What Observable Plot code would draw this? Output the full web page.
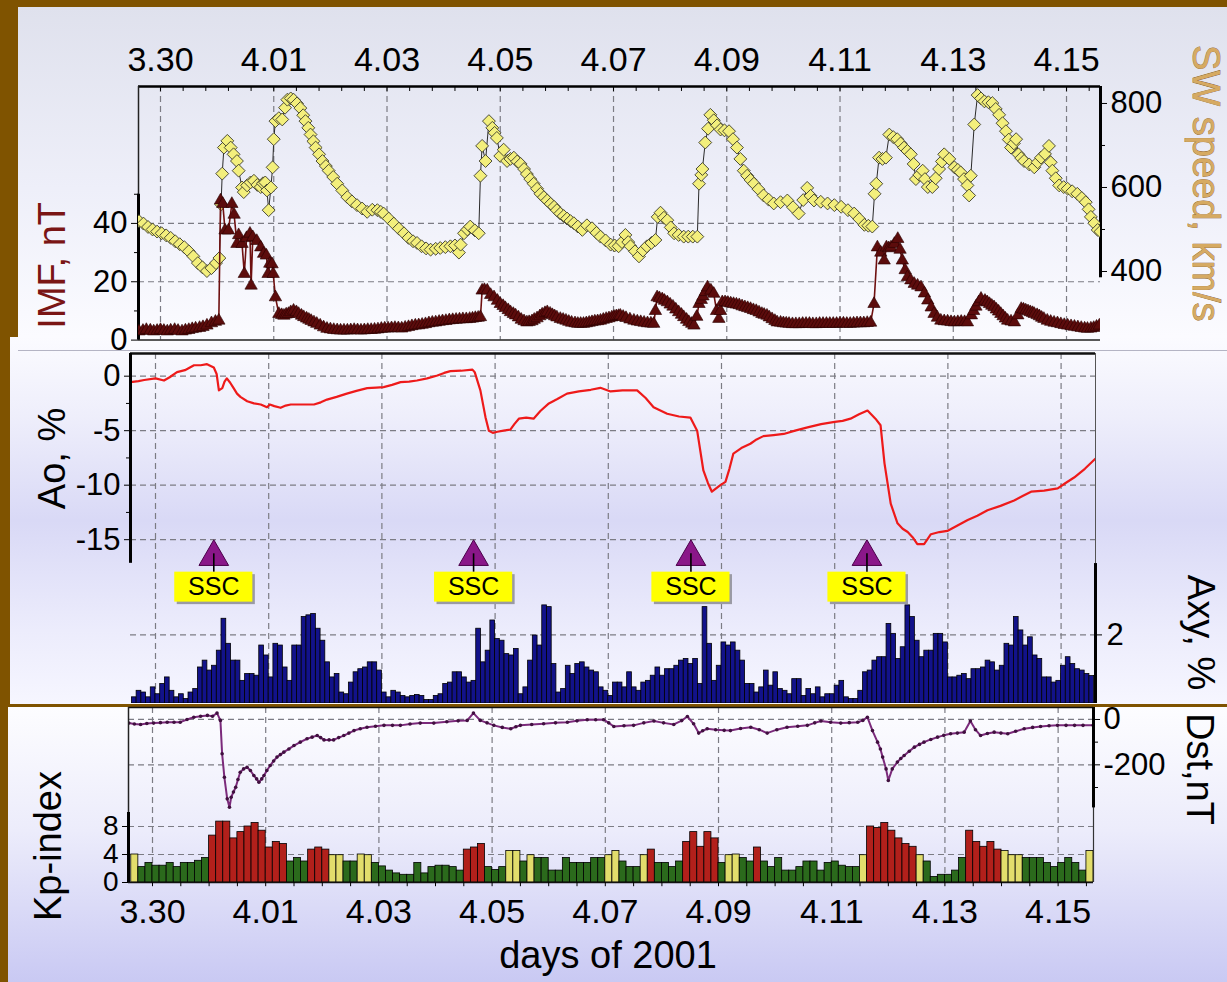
<!DOCTYPE html>
<html><head><meta charset="utf-8">
<script src="https://cdn.jsdelivr.net/npm/d3@7"></script>
<script src="https://cdn.jsdelivr.net/npm/@observablehq/plot@0.6"></script>
<style>
html,body{margin:0;padding:0;background:#7f5300;}
#page{position:relative;width:1227px;height:982px;overflow:hidden;background:#7f5300;}
.bg{position:absolute;}
.layer{position:absolute;left:0;width:1227px;}
.layer svg{overflow:visible;}
</style></head><body>
<div id="page">
 <div class="bg" style="left:18px;top:7px;width:1209px;height:330px;background:linear-gradient(#dfe1ed,#eeeff9 55%,#fbfbff)"></div>
 <div class="bg" style="left:10px;top:337px;width:1217px;height:367px;background:linear-gradient(#fbfbff,#eeeefb 22%,#d9d9f6 50%,#ececfc 80%,#f6f6ff)"></div>
 <div class="bg" style="left:18px;top:350px;width:1209px;height:1px;background:#b4b4c4"></div>
 <div class="bg" style="left:8px;top:707px;width:1219px;height:275px;background:linear-gradient(#fdfdff,#ececfb 45%,#c9c9f3)"></div>
 <div id="p3" class="layer" style="top:700px"></div>
 <div id="p2" class="layer" style="top:330px"></div>
 <div id="p1" class="layer" style="top:0px"></div>
</div>
<script>
// ---------- data (day 0 = 30 March 2001, 00 UT) ----------
const xTickDays = [0, 2, 4, 6, 8, 10, 12, 14, 16];
const xTickLabels = ["3.30", "4.01", "4.03", "4.05", "4.07", "4.09", "4.11", "4.13", "4.15"];

// solar wind speed, km/s  [day, value]
const swSpeed = [[-0.38,520],[-0.30,514],[-0.22,506],[-0.14,500],[-0.06,495],[0.02,491],[0.10,486],[0.18,480],[0.26,472],[0.34,465],[0.42,458],[0.50,448],[0.58,436],[0.66,420],[0.74,410],[0.82,401],[0.90,408],[0.98,420],[1.04,432],[1.07,560],[1.09,633],[1.12,695],[1.18,711],[1.24,695],[1.29,679],[1.35,663],[1.38,640],[1.44,600],[1.47,589],[1.53,605],[1.59,612],[1.65,616],[1.71,606],[1.77,601],[1.81,610],[1.85,612],[1.88,593],[1.91,546],[1.95,600],[1.98,648],[2.00,715],[2.03,758],[2.09,765],[2.15,762],[2.20,790],[2.24,809],[2.30,812],[2.35,809],[2.41,800],[2.47,789],[2.52,772],[2.56,758],[2.61,742],[2.65,726],[2.70,710],[2.74,695],[2.80,679],[2.86,663],[2.92,651],[2.97,640],[3.05,625],[3.12,609],[3.21,593],[3.30,577],[3.38,567],[3.47,558],[3.56,550],[3.65,542],[3.74,547],[3.83,546],[3.89,542],[3.94,538],[4.03,526],[4.12,514],[4.21,502],[4.30,491],[4.38,480],[4.46,472],[4.53,468],[4.61,460],[4.69,455],[4.77,452],[4.86,454],[4.94,456],[5.03,458],[5.12,460],[5.20,462],[5.27,445],[5.30,464],[5.36,491],[5.42,500],[5.47,507],[5.55,498],[5.62,491],[5.65,628],[5.68,699],[5.74,663],[5.80,758],[5.86,742],[5.90,730],[5.94,718],[6.00,675],[6.06,690],[6.12,663],[6.18,668],[6.24,671],[6.30,662],[6.36,656],[6.42,644],[6.47,632],[6.53,620],[6.59,609],[6.65,597],[6.71,585],[6.77,577],[6.83,569],[6.89,561],[6.95,554],[7.00,546],[7.06,538],[7.12,532],[7.18,526],[7.24,520],[7.30,515],[7.37,507],[7.45,499],[7.53,510],[7.62,503],[7.70,492],[7.77,483],[7.86,474],[7.95,464],[8.02,462],[8.09,460],[8.15,470],[8.21,487],[8.26,470],[8.30,460],[8.38,448],[8.45,436],[8.52,450],[8.59,460],[8.67,468],[8.74,475],[8.78,530],[8.83,540],[8.89,528],[8.95,522],[9.01,505],[9.07,491],[9.15,487],[9.24,483],[9.32,483],[9.40,483],[9.48,483],[9.51,609],[9.55,630],[9.57,644],[9.62,707],[9.67,740],[9.71,773],[9.77,760],[9.83,748],[9.89,738],[9.96,736],[10.04,734],[10.11,715],[10.18,695],[10.24,668],[10.30,640],[10.36,628],[10.42,618],[10.48,609],[10.56,596],[10.65,581],[10.74,571],[10.83,562],[10.95,565],[11.07,569],[11.17,553],[11.27,538],[11.35,570],[11.42,599],[11.48,580],[11.54,569],[11.66,566],[11.78,562],[11.90,558],[12.02,554],[12.14,546],[12.25,538],[12.34,525],[12.43,511],[12.50,509],[12.57,507],[12.61,585],[12.64,609],[12.69,671],[12.75,668],[12.81,671],[12.87,726],[12.94,720],[13.01,715],[13.07,705],[13.13,695],[13.19,687],[13.25,679],[13.30,656],[13.34,620],[13.40,630],[13.46,640],[13.50,620],[13.55,601],[13.63,601],[13.69,622],[13.75,644],[13.80,662],[13.84,679],[13.93,668],[14.02,648],[14.08,642],[14.13,636],[14.19,620],[14.25,605],[14.28,581],[14.31,628],[14.37,750],[14.43,820],[14.49,812],[14.55,805],[14.62,803],[14.69,801],[14.75,787],[14.81,773],[14.87,753],[14.93,734],[14.98,714],[15.02,695],[15.07,705],[15.11,715],[15.15,679],[15.20,670],[15.25,663],[15.34,655],[15.43,648],[15.49,660],[15.55,671],[15.62,680],[15.69,699],[15.72,660],[15.75,640],[15.81,622],[15.87,605],[15.95,601],[16.02,597],[16.10,591],[16.19,585],[16.27,575],[16.34,565],[16.39,548],[16.43,530],[16.49,515],[16.55,499],[16.60,495]];

// IMF magnitude, nT  [day, value]
const imf = [[-0.38,3],[-0.31,3.2],[-0.25,3.5],[-0.18,3.3],[-0.12,3],[-0.06,3.2],[0.00,3.5],[0.06,3.2],[0.12,3],[0.18,3.3],[0.25,3.5],[0.31,3.2],[0.38,3],[0.44,3.3],[0.50,3.5],[0.56,3.8],[0.62,4],[0.69,4.2],[0.75,4.5],[0.82,5],[0.90,5.8],[0.97,6.3],[1.03,6.7],[1.06,47.9],[1.10,46.7],[1.14,37.6],[1.20,37.6],[1.26,46.7],[1.30,43],[1.35,33],[1.38,36],[1.44,33],[1.48,22.7],[1.52,35],[1.58,36.5],[1.60,18.7],[1.63,35.3],[1.70,34],[1.77,31.8],[1.82,29.6],[1.87,29],[1.90,22.7],[1.93,26.2],[1.97,26],[1.99,22.7],[2.03,14.7],[2.09,9],[2.14,8.6],[2.18,8.4],[2.22,8.8],[2.26,9],[2.30,9.6],[2.35,10.1],[2.40,9.6],[2.44,9],[2.49,8.4],[2.53,7.9],[2.58,7.4],[2.62,7],[2.66,6.6],[2.71,6.1],[2.76,5.6],[2.82,5],[2.88,4.4],[2.94,3.9],[3.00,3.7],[3.06,3.5],[3.12,3.4],[3.18,3.3],[3.24,3.3],[3.30,3.3],[3.36,3.4],[3.42,3.5],[3.48,3.4],[3.54,3.3],[3.60,3.4],[3.66,3.5],[3.72,3.5],[3.78,3.6],[3.84,3.7],[3.90,3.9],[3.96,4],[4.02,4],[4.08,4.1],[4.14,4.2],[4.20,4.1],[4.26,4],[4.32,4.3],[4.38,4.5],[4.44,4.8],[4.50,5],[4.56,5.1],[4.62,5.3],[4.68,5.5],[4.74,5.8],[4.80,6],[4.86,6.1],[4.92,6.3],[4.98,6.5],[5.04,6.6],[5.10,6.8],[5.16,6.9],[5.22,7],[5.28,7.1],[5.34,7.2],[5.40,7.2],[5.46,7.3],[5.51,7.4],[5.56,7.6],[5.61,7.7],[5.65,7.9],[5.68,17],[5.72,17.2],[5.77,17],[5.83,15.5],[5.89,14.7],[5.95,13.5],[6.00,12.4],[6.05,11.7],[6.09,11],[6.14,10.3],[6.18,9.6],[6.23,9],[6.27,8.5],[6.32,7.8],[6.37,7],[6.42,6.5],[6.47,6.1],[6.51,6.2],[6.56,6.5],[6.60,7],[6.65,7.5],[6.70,8.2],[6.74,8.8],[6.79,9.3],[6.83,9.6],[6.88,9.1],[6.92,8.6],[6.96,8.2],[7.00,7.8],[7.06,7.3],[7.11,7],[7.16,6.7],[7.21,6.3],[7.26,6],[7.32,5.8],[7.37,5.6],[7.42,5.6],[7.47,5.6],[7.52,5.8],[7.57,6],[7.62,6.2],[7.67,6.4],[7.72,6.5],[7.77,6.7],[7.82,7],[7.87,7.3],[7.92,7.5],[7.97,7.8],[8.01,8],[8.05,8.2],[8.09,8.3],[8.12,8.4],[8.17,8],[8.22,7.6],[8.29,7.1],[8.36,6.7],[8.42,6.4],[8.48,6.2],[8.54,6],[8.60,5.8],[8.66,5.7],[8.71,5.6],[8.74,10],[8.77,14.7],[8.81,14.4],[8.86,14],[8.90,13.5],[8.95,13],[9.00,12.2],[9.05,11.5],[9.10,10.5],[9.15,9.6],[9.20,8.7],[9.24,7.9],[9.29,7],[9.33,6.2],[9.38,5.6],[9.42,5],[9.47,8],[9.51,12.4],[9.55,13.8],[9.58,15],[9.62,16.5],[9.66,18.1],[9.72,17],[9.77,15.9],[9.82,10],[9.86,7.3],[9.89,10],[9.92,13],[9.97,13],[10.02,12.8],[10.07,12.6],[10.12,12.4],[10.17,12.2],[10.22,12],[10.27,11.6],[10.32,11.3],[10.37,11],[10.42,10.7],[10.47,10.3],[10.52,10],[10.57,9.5],[10.62,9],[10.66,8.7],[10.71,8.4],[10.75,7.8],[10.80,7.2],[10.85,6.6],[10.89,6.1],[10.95,6],[11.00,5.8],[11.05,5.7],[11.10,5.6],[11.16,5.5],[11.22,5.5],[11.28,5.5],[11.34,5.6],[11.40,5.6],[11.46,5.6],[11.52,5.5],[11.58,5.5],[11.64,5.6],[11.70,5.6],[11.76,5.6],[11.82,5.6],[11.88,5.6],[11.94,5.6],[12.00,5.7],[12.06,5.7],[12.12,5.6],[12.18,5.6],[12.24,5.7],[12.30,5.8],[12.36,5.8],[12.42,5.8],[12.48,5.9],[12.54,6],[12.60,12.4],[12.66,31.8],[12.72,30],[12.78,27.3],[12.82,31.8],[12.86,31.5],[12.90,31.8],[12.96,33],[13.02,34.7],[13.06,31],[13.10,27.3],[13.15,24],[13.19,21.6],[13.25,20.5],[13.31,19.3],[13.37,18.7],[13.43,18.1],[13.49,16],[13.55,13.6],[13.61,11.2],[13.66,9],[13.72,7.7],[13.78,6.7],[13.84,6.5],[13.90,6.4],[13.96,6.2],[14.02,6.1],[14.08,6.2],[14.14,6.3],[14.20,6.2],[14.25,6.1],[14.32,8.5],[14.36,10],[14.40,11.5],[14.45,13],[14.49,14.2],[14.56,13.5],[14.60,13],[14.64,12.4],[14.68,11.8],[14.72,11.3],[14.76,10.5],[14.80,9.8],[14.84,9],[14.88,8.2],[14.92,7.4],[14.96,6.7],[15.02,6.4],[15.08,6.1],[15.14,8.5],[15.20,10.7],[15.24,10.5],[15.28,10.2],[15.32,9.9],[15.36,9.6],[15.40,9.3],[15.43,9],[15.48,8.6],[15.52,8.2],[15.56,7.7],[15.60,7.3],[15.66,6.7],[15.72,6.3],[15.78,6],[15.84,5.8],[15.90,5.5],[15.96,5.2],[16.02,5],[16.08,4.8],[16.14,4.6],[16.20,4.4],[16.26,4.2],[16.32,4],[16.37,3.9],[16.43,4],[16.48,4.2],[16.53,4.6],[16.58,5]];

// cosmic ray density variation Ao, %  [day, value]
const ao = [[-0.44,-0.55],[-0.30,-0.45],[-0.20,-0.35],[0.00,-0.2],[0.15,-0.4],[0.25,-0.1],[0.38,0.37],[0.52,0.55],[0.68,1.0],[0.80,1.0],[0.91,1.1],[1.03,0.8],[1.08,0.2],[1.12,-1.3],[1.18,-1.1],[1.22,-0.5],[1.26,-0.2],[1.32,-0.6],[1.38,-1.1],[1.44,-1.6],[1.50,-1.9],[1.62,-2.3],[1.74,-2.5],[1.86,-2.6],[1.97,-2.85],[2.02,-2.6],[2.10,-2.75],[2.21,-2.9],[2.30,-2.7],[2.39,-2.6],[2.60,-2.6],[2.80,-2.6],[2.92,-2.4],[3.03,-2.15],[3.20,-1.9],[3.38,-1.6],[3.55,-1.35],[3.74,-1.1],[3.90,-1.05],[4.03,-1.0],[4.18,-0.8],[4.33,-0.55],[4.48,-0.5],[4.62,-0.4],[4.80,-0.2],[4.98,0.06],[5.10,0.3],[5.21,0.46],[5.40,0.5],[5.60,0.6],[5.64,0.37],[5.74,-1.3],[5.83,-3.76],[5.89,-5.0],[5.96,-5.2],[6.04,-5.1],[6.15,-5.0],[6.27,-4.9],[6.34,-4.4],[6.42,-3.9],[6.55,-3.8],[6.68,-3.9],[6.80,-3.2],[6.95,-2.5],[7.10,-2.1],[7.27,-1.6],[7.48,-1.4],[7.69,-1.25],[7.86,-1.07],[8.04,-1.4],[8.25,-1.3],[8.51,-1.3],[8.66,-2.0],[8.80,-2.85],[9.04,-3.45],[9.25,-3.7],[9.45,-3.8],[9.57,-5.0],[9.68,-8.65],[9.76,-9.8],[9.83,-10.6],[9.98,-10.0],[10.07,-9.7],[10.14,-8.5],[10.21,-7.1],[10.35,-6.6],[10.51,-6.2],[10.62,-5.8],[10.74,-5.5],[10.92,-5.4],[11.10,-5.3],[11.30,-5.0],[11.52,-4.7],[11.76,-4.4],[12.00,-4.2],[12.14,-4.1],[12.28,-3.9],[12.43,-3.5],[12.58,-3.15],[12.72,-3.9],[12.81,-4.5],[12.88,-8.0],[12.99,-11.7],[13.11,-13.5],[13.20,-14.0],[13.29,-14.3],[13.38,-14.8],[13.46,-15.4],[13.58,-15.4],[13.70,-14.5],[13.85,-14.3],[13.99,-14.2],[14.17,-13.7],[14.35,-13.2],[14.52,-12.8],[14.70,-12.3],[14.93,-11.9],[15.17,-11.4],[15.32,-11.0],[15.47,-10.6],[15.70,-10.5],[15.94,-10.3],[16.08,-9.8],[16.23,-9.3],[16.42,-8.5],[16.60,-7.6]];

// CR anisotropy Axy, %, 2-hour values starting at day axyStart
const axyStart = -10 / 24;
const axy = [0.18,0.37,0.32,0.18,0.47,0.27,0.57,0.76,0.37,0.18,0.27,0.13,0.32,0.42,1.05,1.25,0.96,1.1,1.54,2.47,1.74,1.25,1.25,0.66,0.86,0.86,0.81,1.69,1.4,0.76,1.74,1.69,1.05,0.66,1.69,1.69,2.52,2.57,2.61,2.18,1.83,1.2,0.76,0.86,0.32,0.27,0.61,0.91,1.0,1.05,1.2,1.2,0.96,0.32,0.18,0.37,0.32,0.22,0.18,0.22,0.25,
 0.22,0.1,0.1,0.22,0.27,0.57,0.61,0.91,0.91,0.76,0.61,0.66,2.18,1.2,1.54,2.42,1.88,1.83,1.44,1.4,1.59,0.27,0.47,1.25,1.98,1.69,2.86,2.81,1.15,0.32,0.42,1.1,0.86,1.15,1.2,1.05,0.96,0.91,0.47,0.37,0.22,0.61,0.61,0.47,0.91,0.47,0.37,0.61,0.66,0.81,1.05,0.81,1.0,1.0,1.1,1.25,1.3,1.15,1.3,0.57,2.81,1.74,0.66,1.1,1.78,1.69,1.78,1.54,1.25,0.57,0.57,0.32,0.47,0.96,0.52,0.91,0.42,0.37,0.27,0.71,0.71,0.22,0.42,0.27,0.47,
 0.18,0.27,0.27,0.52,0.66,0.18,0.13,0.13,0.37,0.91,0.96,1.25,1.35,1.35,2.32,2.03,1.3,1.64,2.86,2.52,1.83,1.35,1.54,1.54,2.03,2.03,1.78,0.76,0.76,0.81,0.86,0.71,1.0,1.0,1.05,1.25,1.2,0.96,1.1,1.74,1.69,2.52,2.13,1.69,1.93,1.4,1.3,0.76,0.76,0.61,0.66,1.1,1.35,1.15,1.0,0.96,0.86,0.8];

// storm sudden commencements, day
const sscDay = [1.03, 5.62, 9.46, 12.57];

// Kp index, 3-hour values starting at day kpStart
const kpStart = -0.375;
const kp = [4.0,2.2,2.8,2.4,2.4,2.8,2.2,2.8,2.8,3.1,3.5,6.7,8.7,8.7,6.3,7.2,8.0,8.5,7.4,5.0,5.8,5.5,3.0,3.5,3.0,4.7,5.0,4.7,3.9,3.9,3.0,3.0,4.0,3.9,2.8,2.3,1.7,1.3,1.1,1.1,2.8,1.3,2.2,2.4,2.4,2.2,
 1.7,4.7,5.0,5.5,2.2,1.8,2.2,4.5,4.5,3.0,3.9,3.5,3.5,1.7,1.7,3.5,2.8,2.8,2.8,3.5,3.5,3.9,4.5,3.0,2.2,2.2,3.9,4.7,2.8,2.8,2.2,3.0,5.8,7.2,5.1,7.2,6.3,2.8,3.9,4.0,3.5,3.0,5.0,3.0,2.2,
 3.5,1.7,1.7,2.2,3.0,3.0,1.7,2.8,3.0,2.4,2.2,2.2,3.9,8.0,7.8,8.5,7.4,6.3,5.5,5.1,3.9,3.0,0.8,1.1,1.1,1.7,3.5,7.4,5.8,5.1,5.8,4.7,4.5,3.9,3.9,3.5,3.5,3.5,2.8,2.2,2.8,3.5,2.8,1.7,4.5];

// Dst index, nT  [day, value]
const dst = [[-0.42,-16],[-0.32,-20],[-0.21,-22],[-0.10,-18],[0.02,-16],[0.14,-14],[0.26,-12],[0.38,-12],[0.49,-12],[0.61,0],[0.73,10],[0.85,14],[0.97,18],[1.06,14],[1.14,28],[1.20,-4],[1.23,-151],[1.27,-255],[1.32,-350],[1.36,-387],[1.39,-343],[1.43,-320],[1.47,-299],[1.51,-265],[1.55,-233],[1.61,-218],[1.67,-211],[1.73,-225],[1.79,-247],[1.84,-262],[1.88,-277],[1.93,-262],[1.97,-247],[2.02,-225],[2.08,-203],[2.14,-183],[2.20,-166],[2.26,-155],[2.32,-144],[2.41,-130],[2.50,-115],[2.61,-100],[2.73,-85],[2.82,-78],[2.91,-71],[2.97,-80],[3.03,-90],[3.12,-90],[3.20,-90],[3.29,-80],[3.38,-71],[3.47,-60],[3.56,-49],[3.67,-41],[3.79,-34],[3.94,-30],[4.09,-26],[4.24,-26],[4.38,-26],[4.55,-20],[4.73,-16],[4.97,-16],[5.20,-10],[5.40,-6],[5.56,-4],[5.67,28],[5.79,-4],[5.91,-15],[6.03,-26],[6.18,-35],[6.33,-41],[6.42,-32],[6.50,-26],[6.70,-22],[6.91,-19],[7.12,-15],[7.33,-12],[7.50,-6],[7.68,-1],[7.83,-1],[7.97,-1],[8.06,-15],[8.15,-31],[8.33,-28],[8.50,-26],[8.68,-15],[8.86,-7],[9.03,-15],[9.21,-22],[9.35,-5],[9.45,13],[9.56,-19],[9.65,-60],[9.72,-50],[9.80,-41],[9.95,-45],[10.10,-48],[10.21,-49],[10.39,-40],[10.57,-34],[10.72,-45],[10.86,-60],[11.03,-45],[11.21,-34],[11.40,-30],[11.57,-26],[11.70,-15],[11.81,-7],[11.98,-12],[12.16,-16],[12.31,-14],[12.46,-12],[12.55,-4],[12.63,10],[12.72,-49],[12.81,-100],[12.86,-130],[12.90,-166],[12.96,-218],[13.00,-269],[13.07,-218],[13.16,-188],[13.22,-172],[13.28,-159],[13.37,-140],[13.46,-122],[13.55,-110],[13.63,-100],[13.75,-88],[13.87,-78],[13.98,-70],[14.10,-63],[14.22,-60],[14.34,-56],[14.45,-7],[14.54,-45],[14.63,-71],[14.75,-62],[14.87,-56],[14.99,-60],[15.11,-63],[15.25,-52],[15.40,-41],[15.55,-35],[15.69,-31],[15.84,-28],[15.99,-26],[16.14,-26],[16.29,-26],[16.44,-26],[16.62,-26]];

// ---------- styling helpers ----------
const FONT = '"Liberation Sans", Arial, Helvetica, sans-serif';
const GRID = {stroke: "#7c7c84", strokeDasharray: "6,4", strokeWidth: 1.2};
const baseStyle = {background: "transparent", overflow: "visible", fontFamily: FONT, fontSize: "31px", color: "#000"};
const TITLE = 38;
const XTICK = 34;
const mid = {textAnchor: "middle", lineAnchor: "middle"};

// ---------- panel 1: IMF & solar wind speed ----------
const p1 = {xmin: -0.3885, xmax: 16.6, ymax: 86.94};
const spd = s => 23.52 + (s - 400) * 0.144;       // km/s -> IMF-axis units
const spdInv = v => 400 + (v - 23.52) / 0.144;
const topMinor = d3.range(0, 16.5, 0.4);

const plot1 = Plot.plot({
  width: 1227, height: 350,
  marginLeft: 138, marginRight: 127, marginTop: 86, marginBottom: 10.4,
  x: {domain: [p1.xmin, p1.xmax], axis: null},
  y: {domain: [0, p1.ymax], axis: null},
  style: baseStyle,
  marks: [
    Plot.ruleX(xTickDays, GRID),
    Plot.ruleY([20, 40], GRID),
    Plot.ruleY([p1.ymax], {stroke: "#000", strokeWidth: 2.5}),
    Plot.ruleY([0], {stroke: "#222", strokeWidth: 1.5}),
    Plot.ruleX([p1.xmin], {stroke: "#222", strokeWidth: 1.5}),
    Plot.ruleX([p1.xmin], {y1: 0, y2: 50, stroke: "#000", strokeWidth: 3}),
    Plot.ruleX([p1.xmax], {y1: spd(385), y2: p1.ymax, stroke: "#000", strokeWidth: 3}),
    Plot.ruleX(topMinor, {y1: p1.ymax, y2: p1.ymax - 1.7, stroke: "#000", strokeWidth: 1}),
    Plot.axisY({anchor: "left", ticks: [0, 20, 40], tickSize: 7, tickPadding: 4, tickFormat: d => String(d), label: null}),
    Plot.axisY({anchor: "left", ticks: [10, 30, 50], tickSize: 4, tickFormat: () => "", label: null}),
    Plot.axisY({anchor: "right", ticks: [400, 600, 800].map(spd), tickSize: 6, tickPadding: 4, tickFormat: d => String(Math.round(spdInv(d))), label: null}),
    Plot.axisY({anchor: "right", ticks: [500, 700].map(spd), tickSize: 4, tickFormat: () => "", label: null}),
    Plot.text(xTickDays, {x: d => d, frameAnchor: "top", text: (d, i) => xTickLabels[i], dy: -26, fill: "#000", fontSize: XTICK, ...mid}),
    Plot.line(swSpeed, {x: d => d[0], y: d => spd(d[1]), stroke: "#2a2a2a", strokeWidth: 1, clip: true}),
    Plot.dot(swSpeed, {x: d => d[0], y: d => spd(d[1]), symbol: "diamond2", r: 5.8, fill: "#f3ef7c", stroke: "#3a3a2a", strokeWidth: 0.9, clip: true}),
    Plot.line(imf, {x: d => d[0], y: d => d[1], stroke: "#6e1010", strokeWidth: 1.6, clip: true}),
    Plot.dot(imf, {x: d => d[0], y: d => d[1], symbol: "triangle", r: 4.6, fill: "#5c0c0c", stroke: "#2a0000", strokeWidth: 0.6, clip: true}),
    Plot.text(["IMF, nT"], {frameAnchor: "left", dx: -86, dy: 52, rotate: -90, fill: "#7a1515", fontSize: TITLE, ...mid}),
    Plot.text(["SW speed, km/s"], {frameAnchor: "right", dx: 105, dy: -30, rotate: 90, fill: "#d6aa62", stroke: "#8c6028", strokeWidth: 0.7, fontSize: TITLE, ...mid})
  ]
});
document.getElementById("p1").append(plot1);

// ---------- panel 2: Ao and Axy ----------
const p2 = {xmin: -0.4417, xmax: 16.608, ymin: -30.03, ymax: 2.08};
const axyEq = v => p2.ymin + v * 3.147;            // Axy % -> Ao-axis units
const sscHalf = 0.69;

const plot2 = Plot.plot({
  width: 1227, height: 375,
  marginLeft: 130, marginRight: 132, marginTop: 23, marginBottom: 2,
  x: {domain: [p2.xmin, p2.xmax], axis: null},
  y: {domain: [p2.ymin, p2.ymax], axis: null},
  style: baseStyle,
  marks: [
    Plot.ruleX(xTickDays, GRID),
    Plot.ruleY([0, -5, -10, -15, axyEq(2)], GRID),
    Plot.rect(axy, {x1: (d, i) => axyStart + i / 12, x2: (d, i) => axyStart + (i + 1) / 12, y1: p2.ymin, y2: d => axyEq(d), fill: "#12128a", stroke: "#000", strokeWidth: 0.8, clip: true}),
    Plot.line(ao, {x: d => d[0], y: d => d[1], stroke: "#ee1a1a", strokeWidth: 2.2, clip: true}),
    Plot.ruleY([p2.ymax], {stroke: "#111", strokeWidth: 2.5}),
    Plot.ruleX([p2.xmin], {y1: -17.17, y2: p2.ymax, stroke: "#000", strokeWidth: 3}),
    Plot.ruleX([p2.xmax], {y1: axyEq(4.08), y2: p2.ymax, stroke: "#555", strokeWidth: 1}),
    Plot.ruleX([p2.xmax], {y1: p2.ymin, y2: axyEq(4.08), stroke: "#000", strokeWidth: 3}),
    Plot.axisY({anchor: "left", ticks: [0, -5, -10, -15], tickSize: 6, tickPadding: 4, tickFormat: d => String(d), label: null}),
    Plot.axisY({anchor: "left", ticks: [-2.5, -7.5, -12.5], tickSize: 4, tickFormat: () => "", label: null}),
    Plot.axisY({anchor: "right", ticks: [axyEq(2)], tickSize: 6, tickPadding: 5, tickFormat: () => "2", label: null}),
    Plot.rect(sscDay, {x1: d => d - sscHalf, x2: d => d + sscHalf, y1: -17.98, y2: -20.73, fill: "#9a9aa4", dx: 2.5, dy: 2.5}),
    Plot.rect(sscDay, {x1: d => d - sscHalf, x2: d => d + sscHalf, y1: -17.98, y2: -20.73, fill: "#ffff00"}),
    Plot.text(sscDay, {x: d => d, y: -19.3, text: () => "SSC", fontSize: 25, fill: "#000"}),
    Plot.dot(sscDay, {x: d => d, y: -16.58, symbol: "triangle", r: 11, fill: "#8a1789", stroke: "#4a004a", strokeWidth: 1}),
    Plot.ruleX(sscDay, {y1: -16.3, y2: -17.98, stroke: "#000", strokeWidth: 1.6}),
    Plot.text(["Ao, %"], {frameAnchor: "left", dx: -78, dy: -70, rotate: -90, fill: "#000", fontSize: TITLE, ...mid}),
    Plot.text(["Axy, %"], {frameAnchor: "right", dx: 105, dy: 104, rotate: 90, fill: "#000", fontSize: TITLE, ...mid})
  ]
});
document.getElementById("p2").append(plot2);

// ---------- panel 3: Dst and Kp ----------
const p3 = {xmin: -0.424, xmax: 16.625, ymax: 25.0};
const dstEq = d => 23.29 + d * 0.0324;              // nT -> Kp-axis units
const dstInv = v => (v - 23.29) / 0.0324;
const kpColor = v => v >= 4.6 ? "#b2201b" : v >= 3.8 ? "#e2dd6c" : "#2b6a1c";
const bottomMinor = d3.range(-0.5, 16.6, 0.5);

const plot3 = Plot.plot({
  width: 1227, height: 282,
  marginLeft: 128, marginRight: 134, marginTop: 7, marginBottom: 100,
  x: {domain: [p3.xmin, p3.xmax], axis: null},
  y: {domain: [0, p3.ymax], axis: null},
  style: baseStyle,
  marks: [
    Plot.ruleX(xTickDays, GRID),
    Plot.ruleY([dstEq(0), dstEq(-200), 8, 4], GRID),
    Plot.rect(kp, {x1: (d, i) => kpStart + i * 0.125, x2: (d, i) => kpStart + (i + 1) * 0.125, y1: 0, y2: d => d, fill: d => kpColor(d), stroke: "#000", strokeWidth: 0.8, clip: true}),
    Plot.line(dst, {x: d => d[0], y: d => dstEq(d[1]), stroke: "#7b2a7b", strokeWidth: 2, clip: true}),
    Plot.dot(dst, {x: d => d[0], y: d => dstEq(d[1]), r: 1.8, fill: "#40103f", clip: true}),
    Plot.ruleY([p3.ymax], {stroke: "#111", strokeWidth: 1.5}),
    Plot.ruleY([0], {stroke: "#111", strokeWidth: 1.5}),
    Plot.ruleX([p3.xmin], {stroke: "#222", strokeWidth: 1.5}),
    Plot.ruleX([p3.xmin], {y1: 0, y2: 10, stroke: "#000", strokeWidth: 3}),
    Plot.ruleX([p3.xmax], {stroke: "#333", strokeWidth: 1.2}),
    Plot.ruleX([p3.xmax], {y1: dstEq(-390), y2: p3.ymax, stroke: "#000", strokeWidth: 3}),
    Plot.ruleX(bottomMinor.filter(d => d > p3.xmin), {y1: 0, y2: -0.6, stroke: "#000", strokeWidth: 1}),
    Plot.axisY({anchor: "left", ticks: [0, 4, 8], tickSize: 6, tickPadding: 4, tickFormat: d => String(d), fontSize: 28, label: null}),
    Plot.axisY({anchor: "right", ticks: [0, -200].map(dstEq), tickSize: 6, tickPadding: 4, tickFormat: d => String(Math.round(dstInv(d))), label: null}),
    Plot.axisY({anchor: "right", ticks: [-100, -300].map(dstEq), tickSize: 4, tickFormat: () => "", label: null}),
    Plot.text(xTickDays, {x: d => d, frameAnchor: "bottom", text: (d, i) => xTickLabels[i], dy: 30, fill: "#000", fontSize: XTICK, ...mid}),
    Plot.text(["days of 2001"], {frameAnchor: "bottom", dx: -3, dy: 73, fill: "#000", fontSize: TITLE, ...mid}),
    Plot.text(["Kp-index"], {frameAnchor: "left", dx: -80, dy: 51, rotate: -90, fill: "#000", fontSize: TITLE, ...mid}),
    Plot.text(["Dst,nT"], {frameAnchor: "right", dx: 106, dy: -26, rotate: 90, fill: "#000", fontSize: TITLE, ...mid})
  ]
});
document.getElementById("p3").append(plot3);
</script>
</body></html>
